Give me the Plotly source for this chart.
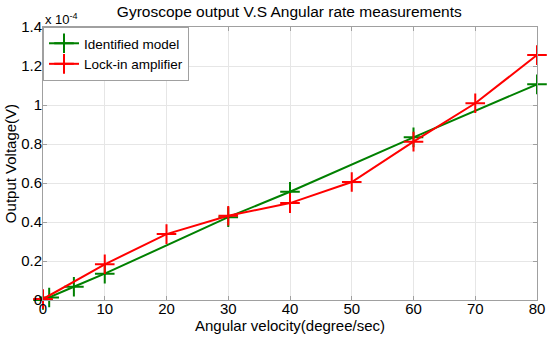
import plotly.graph_objects as go

model_x = [0, 1, 5, 10, 30, 40, 60, 80]
model_y = [0.0, 0.013, 0.068, 0.135, 0.425, 0.555, 0.834, 1.106]  # x 1e-4 V
lockin_x = [0, 10, 20, 30, 40, 50, 60, 70, 80]
lockin_y = [0.005, 0.183, 0.338, 0.432, 0.497, 0.605, 0.812, 1.009, 1.256]  # x 1e-4 V

y_ticks = [0, 0.2, 0.4, 0.6, 0.8, 1.0, 1.2, 1.4]
y_tick_labels = ["0", "0.2", "0.4", "0.6", "0.8", "1", "1.2", "1.4"]
x_ticks = [0, 10, 20, 30, 40, 50, 60, 70, 80]

scale = 1e-4
font = "Liberation Sans, Arial, sans-serif"

fig = go.Figure()
fig.add_trace(go.Scatter(
    x=model_x, y=[v * scale for v in model_y], name="Identified model",
    mode="lines+markers",
    line=dict(color="#008000", width=2),
    marker=dict(symbol="cross-thin", size=14, line=dict(color="#008000", width=2)),
    cliponaxis=False,
))
fig.add_trace(go.Scatter(
    x=lockin_x, y=[v * scale for v in lockin_y], name="Lock-in amplifier",
    mode="lines+markers",
    line=dict(color="#ff0000", width=2),
    marker=dict(symbol="cross-thin", size=14, line=dict(color="#ff0000", width=2)),
    cliponaxis=False,
))

axis_common = dict(
    showline=True, linecolor="#a0a0a0", linewidth=1, mirror="ticks",
    ticks="inside", ticklen=4, tickcolor="#a0a0a0",
    showgrid=True, gridcolor="#e6e6e6", gridwidth=1,
    zeroline=False, tickfont=dict(size=15, color="black", family=font),
    automargin=False,
)

fig.update_layout(
    width=550, height=338,
    margin=dict(l=43, r=13, t=27, b=38),
    paper_bgcolor="white", plot_bgcolor="white",
    font=dict(family=font, color="black"),
    title=dict(text="Gyroscope output V.S Angular rate measurements",
               x=0.526, xanchor="center", y=1 - 12 / 338, yref="container",
               yanchor="middle", automargin=False,
               font=dict(size=15.5, family=font, color="black")),
    xaxis=dict(range=[0, 80], tickvals=x_ticks, ticklabelstandoff=-5,
               title=dict(text="Angular velocity(degree/sec)", standoff=0,
                          font=dict(size=15, family=font)),
               **axis_common),
    yaxis=dict(range=[0, 1.4e-4], tickvals=[v * scale for v in y_ticks],
               ticktext=y_tick_labels, ticklabelstandoff=-3,
               title=dict(text="Output Voltage(V)", standoff=0,
                          font=dict(size=15, family=font)),
               **axis_common),
    legend=dict(x=0.0, y=1.0, xanchor="left", yanchor="top",
                bgcolor="white", bordercolor="#a0a0a0", borderwidth=1,
                font=dict(size=13.5, family=font), tracegroupgap=0,
                itemwidth=30),
    showlegend=True,
)

fig.add_annotation(
    text="x 10<sup>-4</sup>", xref="paper", yref="paper",
    x=0.0, y=1.0, xanchor="left", yanchor="bottom", showarrow=False,
    font=dict(size=13, family=font, color="black"), yshift=-2,
)

fig.write_html("out.html", config={"displayModeBar": False},
               post_script="document.body.style.margin='0';")
